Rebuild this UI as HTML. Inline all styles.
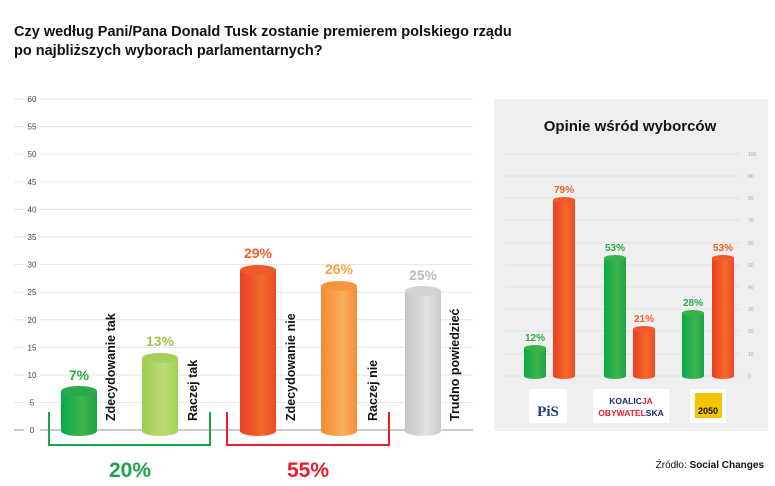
<!DOCTYPE html>
<html><head><meta charset="utf-8"><style>
html,body{margin:0;padding:0;background:#fff;width:775px;height:486px;overflow:hidden}
svg{display:block;font-family:"Liberation Sans",sans-serif}
</style></head><body>
<svg width="775" height="486" viewBox="0 0 775 486" xmlns="http://www.w3.org/2000/svg">
<defs>
<linearGradient id="g1" x1="0" x2="1"><stop offset="0" stop-color="#0aa84a"/><stop offset="0.6" stop-color="#3fb54d"/><stop offset="1" stop-color="#21a346"/></linearGradient>
<linearGradient id="g2" x1="0" x2="1"><stop offset="0" stop-color="#9fcc4a"/><stop offset="0.6" stop-color="#bddb75"/><stop offset="1" stop-color="#a3cf55"/></linearGradient>
<linearGradient id="r1" x1="0" x2="1"><stop offset="0" stop-color="#eb3e24"/><stop offset="0.6" stop-color="#f26a2a"/><stop offset="1" stop-color="#ec4a25"/></linearGradient>
<linearGradient id="o1" x1="0" x2="1"><stop offset="0" stop-color="#f48a32"/><stop offset="0.6" stop-color="#f9ae5c"/><stop offset="1" stop-color="#f58f38"/></linearGradient>
<linearGradient id="s1" x1="0" x2="1"><stop offset="0" stop-color="#c4c4c4"/><stop offset="0.6" stop-color="#e2e2e2"/><stop offset="1" stop-color="#c9c9c9"/></linearGradient>
</defs>
<text x="14" y="36" font-size="14.5" font-weight="bold" fill="#111">Czy według Pani/Pana Donald Tusk zostanie premierem polskiego rządu</text>
<text x="14" y="55" font-size="14.5" font-weight="bold" fill="#111">po najbliższych wyborach parlamentarnych?</text>
<g font-size="8" fill="#444" text-anchor="middle">
<g stroke="#e6e6e6" stroke-width="1">
<line x1="14" y1="99" x2="24" y2="99"/><line x1="40" y1="99" x2="473" y2="99"/>
<line x1="14" y1="126.6" x2="24" y2="126.6"/><line x1="40" y1="126.6" x2="473" y2="126.6"/>
<line x1="14" y1="154.2" x2="24" y2="154.2"/><line x1="40" y1="154.2" x2="473" y2="154.2"/>
<line x1="14" y1="181.8" x2="24" y2="181.8"/><line x1="40" y1="181.8" x2="473" y2="181.8"/>
<line x1="14" y1="209.4" x2="24" y2="209.4"/><line x1="40" y1="209.4" x2="473" y2="209.4"/>
<line x1="14" y1="237" x2="24" y2="237"/><line x1="40" y1="237" x2="473" y2="237"/>
<line x1="14" y1="264.6" x2="24" y2="264.6"/><line x1="40" y1="264.6" x2="473" y2="264.6"/>
<line x1="14" y1="292.2" x2="24" y2="292.2"/><line x1="40" y1="292.2" x2="473" y2="292.2"/>
<line x1="14" y1="319.8" x2="24" y2="319.8"/><line x1="40" y1="319.8" x2="473" y2="319.8"/>
<line x1="14" y1="347.4" x2="24" y2="347.4"/><line x1="40" y1="347.4" x2="473" y2="347.4"/>
<line x1="14" y1="375" x2="24" y2="375"/><line x1="40" y1="375" x2="473" y2="375"/>
<line x1="14" y1="402.6" x2="24" y2="402.6"/><line x1="40" y1="402.6" x2="473" y2="402.6"/>
</g>
<line x1="14" y1="430" x2="24" y2="430" stroke="#999"/><line x1="40" y1="430" x2="473" y2="430" stroke="#999"/>
<text x="32" y="102">60</text><text x="32" y="129.6">55</text><text x="32" y="157.2">50</text><text x="32" y="184.8">45</text><text x="32" y="212.4">40</text><text x="32" y="240">35</text><text x="32" y="267.6">30</text><text x="32" y="295.2">25</text><text x="32" y="322.8">20</text><text x="32" y="350.4">15</text><text x="32" y="378">10</text><text x="32" y="405.6">5</text><text x="32" y="433">0</text>
</g>
<!-- bars: bottom 430 -->
<g>
<path d="M61 391 V431 A18 5 0 0 0 97 431 V391 Z" fill="url(#g1)"/><ellipse cx="79" cy="391" rx="18" ry="5" fill="#2aa84a"/>
<path d="M142 358 V431 A18 5 0 0 0 178 431 V358 Z" fill="url(#g2)"/><ellipse cx="160" cy="358" rx="18" ry="5" fill="#a6d05c"/>
<path d="M240 270 V431 A18 5 0 0 0 276 431 V270 Z" fill="url(#r1)"/><ellipse cx="258" cy="270" rx="18" ry="5" fill="#ef5a28"/>
<path d="M321 286 V431 A18 5 0 0 0 357 431 V286 Z" fill="url(#o1)"/><ellipse cx="339" cy="286" rx="18" ry="5" fill="#f7953e"/>
<path d="M405 291 V431 A18 5 0 0 0 441 431 V291 Z" fill="url(#s1)"/><ellipse cx="423" cy="291" rx="18" ry="5" fill="#d2d2d2"/>
</g>
<g font-size="14" font-weight="bold" text-anchor="middle">
<text x="79" y="380" fill="#2aaa4a">7%</text>
<text x="160" y="346" fill="#98c84a">13%</text>
<text x="258" y="258" fill="#f0602a">29%</text>
<text x="339" y="274" fill="#f7a23a">26%</text>
<text x="423" y="280" fill="#bbb">25%</text>
</g>
<g font-size="12.5" font-weight="bold" fill="#111">
<text transform="translate(115,421) rotate(-90)">Zdecydowanie tak</text>
<text transform="translate(197,421) rotate(-90)">Raczej tak</text>
<text transform="translate(295,421) rotate(-90)">Zdecydowanie nie</text>
<text transform="translate(377,421) rotate(-90)">Raczej nie</text>
<text transform="translate(459,421) rotate(-90)">Trudno powiedzieć</text>
</g>
<path d="M49 412 V445 H210 V412" fill="none" stroke="#1aa34a" stroke-width="2"/>
<path d="M227 412 V445 H389 V412" fill="none" stroke="#e5202a" stroke-width="2"/>
<text x="130" y="477" font-size="21" font-weight="bold" fill="#1aa34a" text-anchor="middle">20%</text>
<text x="308" y="477" font-size="21" font-weight="bold" fill="#e5202a" text-anchor="middle">55%</text>
<!-- right panel -->
<rect x="494" y="99" width="274" height="332" fill="#efefef"/>
<text x="630" y="131" font-size="15" font-weight="bold" fill="#111" text-anchor="middle">Opinie wśród wyborców</text>
<g stroke="#e2e2e2">
<line x1="505" y1="154" x2="740" y2="154"/><line x1="505" y1="176" x2="740" y2="176"/><line x1="505" y1="198" x2="740" y2="198"/><line x1="505" y1="220" x2="740" y2="220"/><line x1="505" y1="243" x2="740" y2="243"/><line x1="505" y1="265" x2="740" y2="265"/><line x1="505" y1="287" x2="740" y2="287"/><line x1="505" y1="309" x2="740" y2="309"/><line x1="505" y1="331" x2="740" y2="331"/><line x1="505" y1="354" x2="740" y2="354"/><line x1="505" y1="376" x2="740" y2="376"/>
</g>
<g font-size="5" fill="#aaa">
<text x="748" y="156">100</text><text x="748" y="178">90</text><text x="748" y="200">80</text><text x="748" y="222">70</text><text x="748" y="245">60</text><text x="748" y="267">50</text><text x="748" y="289">40</text><text x="748" y="311">30</text><text x="748" y="333">20</text><text x="748" y="356">10</text><text x="748" y="378">0</text>
</g>
<g>
<path d="M524 348 V376 A11 3 0 0 0 546 376 V348 Z" fill="url(#g1)"/><ellipse cx="535" cy="348" rx="11" ry="3" fill="#3ab24c"/>
<path d="M553 200 V376 A11 3 0 0 0 575 376 V200 Z" fill="url(#r1)"/><ellipse cx="564" cy="200" rx="11" ry="3" fill="#ef5a28"/>
<path d="M604 258 V376 A11 3 0 0 0 626 376 V258 Z" fill="url(#g1)"/><ellipse cx="615" cy="258" rx="11" ry="3" fill="#3ab24c"/>
<path d="M633 329 V376 A11 3 0 0 0 655 376 V329 Z" fill="url(#r1)"/><ellipse cx="644" cy="329" rx="11" ry="3" fill="#ef5a28"/>
<path d="M682 313 V376 A11 3 0 0 0 704 376 V313 Z" fill="url(#g1)"/><ellipse cx="693" cy="313" rx="11" ry="3" fill="#3ab24c"/>
<path d="M712 258 V376 A11 3 0 0 0 734 376 V258 Z" fill="url(#r1)"/><ellipse cx="723" cy="258" rx="11" ry="3" fill="#ef5a28"/>
</g>
<g font-size="10" font-weight="bold" text-anchor="middle">
<text x="535" y="341" fill="#2aaa4a">12%</text>
<text x="564" y="193" fill="#f0602a">79%</text>
<text x="615" y="251" fill="#2aaa4a">53%</text>
<text x="644" y="322" fill="#f0602a">21%</text>
<text x="693" y="306" fill="#2aaa4a">28%</text>
<text x="723" y="251" fill="#f0602a">53%</text>
</g>
<rect x="529" y="389" width="38" height="34" fill="#fff"/>
<text x="548" y="416" font-size="15" font-family="Liberation Serif,serif" font-weight="bold" fill="#1d3a8a" text-anchor="middle">PiS</text>
<rect x="593" y="389" width="76" height="34" fill="#fff"/>
<text x="631" y="404" font-size="8.5" font-weight="bold" fill="#1d2a70" text-anchor="middle">KOALIC<tspan fill="#e5202a">JA</tspan></text>
<text x="631" y="416" font-size="8.5" font-weight="bold" fill="#e5202a" text-anchor="middle">OBYWATEL<tspan fill="#1d2a70">SKA</tspan></text>
<rect x="690" y="389" width="36" height="34" fill="#fff"/>
<rect x="695" y="393" width="27" height="25" fill="#f5c400"/>
<text x="708" y="414" font-size="9" font-weight="bold" fill="#111" text-anchor="middle">2050</text>
<text x="764" y="468" font-size="10" fill="#111" text-anchor="end">Źródło: <tspan font-weight="bold">Social Changes</tspan></text>
</svg>
</body></html>
